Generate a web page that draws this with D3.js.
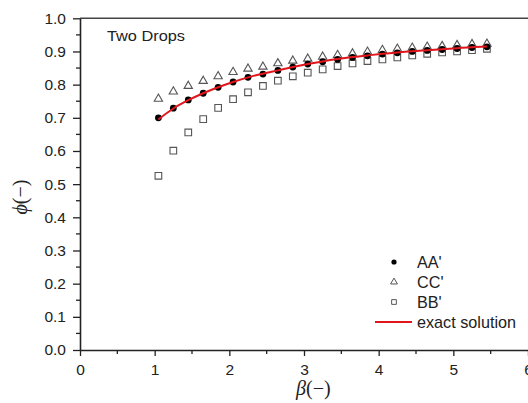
<!DOCTYPE html>
<html>
<head>
    <title>Two Drops</title>
    <script src="https://d3js.org/d3.v7.min.js"></script>
    <style>
        body { margin: 0; background: #fff; }
    </style>
</head>
<body>
    <svg width="528" height="403" id="mainSvg"></svg>
    <script>
        // values
        const beta  = [1.05, 1.25, 1.45, 1.65, 1.85, 2.05, 2.25, 2.45, 2.65, 2.85, 3.05, 3.25,
                       3.45, 3.65, 3.85, 4.05, 4.25, 4.45, 4.65, 4.85, 5.05, 5.25, 5.45];
        const aa    = [0.700, 0.729, 0.754, 0.774, 0.792, 0.808, 0.822, 0.832, 0.843, 0.853, 0.862, 0.869,
                       0.876, 0.882, 0.887, 0.892, 0.896, 0.900, 0.903, 0.906, 0.909, 0.912, 0.914];
        const cc    = [0.757, 0.779, 0.796, 0.811, 0.825, 0.838, 0.848, 0.854, 0.864, 0.872, 0.878, 0.884,
                       0.889, 0.894, 0.899, 0.904, 0.908, 0.911, 0.914, 0.916, 0.919, 0.922, 0.923];
        const bb    = [0.525, 0.601, 0.656, 0.696, 0.730, 0.756, 0.777, 0.796, 0.812, 0.825, 0.836, 0.846,
                       0.856, 0.864, 0.871, 0.876, 0.882, 0.888, 0.893, 0.897, 0.900, 0.904, 0.908];
        const exact = [0.695, 0.728, 0.753, 0.774, 0.792, 0.808, 0.822, 0.833, 0.843, 0.853, 0.862, 0.870,
                       0.877, 0.883, 0.888, 0.893, 0.897, 0.901, 0.904, 0.907, 0.910, 0.913, 0.915];
        const xTicks = [0, 1, 2, 3, 4, 5, 6];
        const yTicks = [0, 0.1, 0.2, 0.3, 0.4, 0.5, 0.6, 0.7, 0.8, 0.9, 1.0];
        const legendNames = ["AA'", "CC'", "BB'", "exact solution"];

        const svg = d3.select("#mainSvg");
        const margin = { top: 18.3, right: 0, bottom: 53, left: 80 };
        const width = +svg.attr("width");
        const height = +svg.attr("height");

        const x = d3.scaleLinear().domain([0, 6]).range([margin.left, width - margin.right]);
        const y = d3.scaleLinear().domain([0, 1]).range([height - margin.bottom, margin.top]);

        const font = "'Liberation Sans', Arial, sans-serif";
        const axisColor = "#222";

        // minor ticks
        const xMinor = d3.range(0.5, 6, 1);
        const yMinor = d3.range(0.05, 1, 0.1);
        svg.append("g").selectAll("line").data(xMinor).join("line")
            .attr("x1", d => x(d)).attr("x2", d => x(d))
            .attr("y1", y(0)).attr("y2", y(0) + 4)
            .attr("stroke", axisColor).attr("stroke-width", 1.3);
        svg.append("g").selectAll("line").data(yMinor).join("line")
            .attr("x1", x(0) - 4).attr("x2", x(0))
            .attr("y1", d => y(d)).attr("y2", d => y(d))
            .attr("stroke", axisColor).attr("stroke-width", 1.3);

        // top border
        svg.append("line")
            .attr("x1", x(0)).attr("x2", x(6))
            .attr("y1", y(1)).attr("y2", y(1))
            .attr("stroke", "#444").attr("stroke-width", 1.5);

        const xAxis = svg.append("g")
            .attr("transform", `translate(0,${y(0)})`)
            .call(d3.axisBottom(x).tickValues(xTicks).tickFormat(d3.format("d"))
                .tickSize(6).tickSizeOuter(0).tickPadding(8));
        const yAxis = svg.append("g")
            .attr("transform", `translate(${x(0)},0)`)
            .call(d3.axisLeft(y).tickValues(yTicks).tickFormat(d3.format(".1f"))
                .tickSize(7).tickSizeOuter(0).tickPadding(7));

        [xAxis, yAxis].forEach(a => {
            a.select(".domain").attr("stroke", axisColor).attr("stroke-width", 1.6);
            a.selectAll(".tick line").attr("stroke", axisColor).attr("stroke-width", 1.3);
            a.selectAll(".tick text").attr("fill", "#222")
                .style("font-family", font).style("font-size", "15.5px");
        });

        // axis titles
        const xTitle = svg.append("text")
            .attr("x", 296).attr("y", 395)
            .style("font-family", "'Liberation Serif', 'Times New Roman', serif")
            .style("font-size", "20px").attr("fill", "#222");
        xTitle.append("tspan").style("font-style", "italic").text("β");
        xTitle.append("tspan").text("(−)");

        const yTitle = svg.append("text")
            .attr("transform", "translate(27,197) rotate(-90)")
            .attr("text-anchor", "middle")
            .style("font-family", "'Liberation Serif', 'Times New Roman', serif")
            .style("font-size", "20px").attr("fill", "#222");
        yTitle.append("tspan").style("font-style", "italic").text("ϕ");
        yTitle.append("tspan").text("(−)");

        svg.append("text")
            .attr("x", 107).attr("y", 41)
            .attr("textLength", 78).attr("lengthAdjust", "spacingAndGlyphs")
            .style("font-family", font).style("font-size", "14px").attr("fill", "#222")
            .text("Two Drops");

        const pts = beta.map((b, i) => ({ b, aa: aa[i], cc: cc[i], bb: bb[i], ex: exact[i] }));

        const markGrey = "#555";
        const triangle = d3.symbol().type(d3.symbolTriangle).size(30);
        const square = d3.symbol().type(d3.symbolSquare).size(44);

        svg.append("g").selectAll("path").data(pts).join("path")
            .attr("d", square)
            .attr("transform", d => `translate(${x(d.b)},${y(d.bb)})`)
            .attr("fill", "none").attr("stroke", markGrey).attr("stroke-width", 1.1);

        svg.append("g").selectAll("path").data(pts).join("path")
            .attr("d", triangle)
            .attr("transform", d => `translate(${x(d.b)},${y(d.cc)})`)
            .attr("fill", "#fff").attr("stroke", markGrey).attr("stroke-width", 1.1);

        svg.append("g").selectAll("circle").data(pts).join("circle")
            .attr("cx", d => x(d.b)).attr("cy", d => y(d.aa))
            .attr("r", 3.4).attr("fill", "#000");

        const line = d3.line().x(d => x(d.b)).y(d => y(d.ex)).curve(d3.curveMonotoneX);
        svg.append("path").datum(pts)
            .attr("d", line)
            .attr("fill", "none").attr("stroke", "#e0161c").attr("stroke-width", 2);

        // legend
        const legend = svg.append("g").attr("transform", "translate(394,262)");
        const rowGap = 20;
        legendNames.forEach((name, i) => {
            const row = legend.append("g").attr("transform", `translate(0,${i * rowGap})`);
            if (i === 0) {
                row.append("circle").attr("r", 2.6).attr("fill", "#000");
            } else if (i === 1) {
                row.append("path").attr("d", d3.symbol().type(d3.symbolTriangle).size(20))
                    .attr("fill", "none").attr("stroke", markGrey).attr("stroke-width", 1);
            } else if (i === 2) {
                row.append("path").attr("d", d3.symbol().type(d3.symbolSquare).size(22))
                    .attr("fill", "none").attr("stroke", markGrey).attr("stroke-width", 1);
            } else {
                row.append("line").attr("x1", -19).attr("x2", 18).attr("y1", 0).attr("y2", 0)
                    .attr("stroke", "#e0161c").attr("stroke-width", 2);
            }
            row.append("text")
                .attr("x", 23).attr("y", 6)
                .style("font-family", font).style("font-size", "16.2px").attr("fill", "#222")
                .text(name);
        });
    </script>
</body>
</html>
